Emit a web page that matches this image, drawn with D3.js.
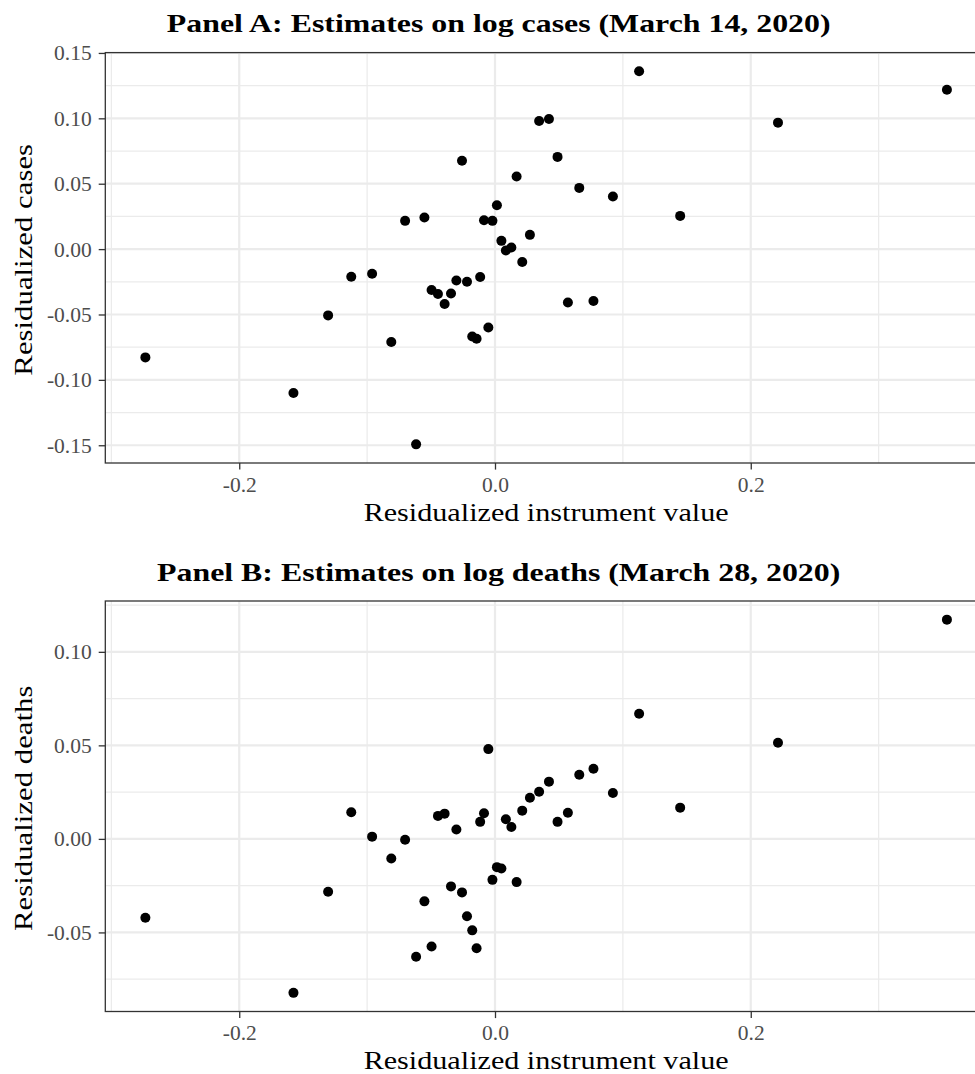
<!DOCTYPE html>
<html><head><meta charset="utf-8">
<script src="https://cdn.jsdelivr.net/npm/d3@7"></script>
<style>body{margin:0;background:#fff} svg{display:block}</style>
</head><body>
<script>
// Residualized instrument value (shared x for both panels)
const instrument = [-0.2734,-0.1576,-0.1305,-0.1124,-0.0961,-0.0811,-0.0703,-0.0617,-0.0552,-0.0496,
  -0.0446,-0.0394,-0.0344,-0.0302,-0.0258,-0.0219,-0.0178,-0.0144,-0.0116,-0.0086,
  -0.0052,-0.0020,0.0015,0.0050,0.0085,0.0128,0.0169,0.0213,0.0273,0.0345,
  0.0422,0.0489,0.0570,0.0659,0.0770,0.0922,0.1127,0.1448,0.2213,0.3534];
// Panel A: residualized log cases
const cases = [-0.0828,-0.1100,-0.0507,-0.0212,-0.0189,-0.0710,0.0216,-0.1493,0.0241,-0.0313,
  -0.0344,-0.0420,-0.0339,-0.0240,0.0675,-0.0250,-0.0668,-0.0685,-0.0214,0.0221,
  -0.0599,0.0216,0.0336,0.0063,-0.0011,0.0012,0.0555,-0.0099,0.0109,0.0980,
  0.0995,0.0705,-0.0408,0.0468,-0.0397,0.0402,0.1360,0.0254,0.0967,0.1219];
// Panel B: residualized log deaths
const deaths = [-0.0422,-0.0823,-0.0283,0.0142,0.0012,-0.0105,-0.0005,-0.0630,-0.0334,-0.0575,
  0.0123,0.0135,-0.0254,0.0050,-0.0286,-0.0414,-0.0489,-0.0585,0.0091,0.0137,
  0.0480,-0.0219,-0.0151,-0.0158,0.0105,0.0064,-0.0231,0.0151,0.0220,0.0252,
  0.0306,0.0091,0.0140,0.0343,0.0375,0.0245,0.0669,0.0167,0.0514,0.1172];

const xTicks = [-0.2, 0.0, 0.2];
const xTickLabels = ["-0.2", "0.0", "0.2"];
const xMinor = [-0.3, -0.1, 0.1, 0.3];
const casesTicks = [-0.15, -0.10, -0.05, 0.00, 0.05, 0.10, 0.15];
const casesTickLabels = ["-0.15", "-0.10", "-0.05", "0.00", "0.05", "0.10", "0.15"];
const casesMinor = [-0.125, -0.075, -0.025, 0.025, 0.075, 0.125];
const deathsTicks = [-0.05, 0.00, 0.05, 0.10];
const deathsTickLabels = ["-0.05", "0.00", "0.05", "0.10"];
const deathsMinor = [-0.075, -0.025, 0.025, 0.075, 0.125];

const titles = ["Panel A: Estimates on log cases (March 14, 2020)", "Panel B: Estimates on log deaths (March 28, 2020)"];
const yTitles = ["Residualized cases", "Residualized deaths"];
const xTitle = "Residualized instrument value";

const W = 975, H = 1074;
const FONT = "'Liberation Serif', 'Times New Roman', serif";
const svg = d3.select("body").append("svg").attr("width", W).attr("height", H)
  .attr("viewBox", `0 0 ${W} ${H}`).style("font-family", FONT);

function natWidth(text, weight, size) {
  const t = svg.append("text").attr("font-size", size).attr("font-weight", weight).text(text);
  const w = t.node().getComputedTextLength();
  t.remove();
  return w;
}
const titleSize = 26, axisTitleSize = 25.5, tickSize = 21.5;
// widths as measured on the reference (Computer Modern is wider than Liberation Serif)
const titleLens = [663.7, 663.7 * natWidth(titles[1], "bold", 100) / natWidth(titles[0], "bold", 100)];
const yTitleLens = [231.7, 231.7 * natWidth(yTitles[1], "normal", 100) / natWidth(yTitles[0], "normal", 100)];
const xTitleLen = 365;

function expand(ext) { const r = ext[1] - ext[0]; return [ext[0] - 0.05 * r, ext[1] + 0.05 * r]; }

const left = 105.3, right = 987;
const x = d3.scaleLinear().domain(expand(d3.extent(instrument))).range([left, right]);

const panels = [
  { title: titles[0], titleLen: titleLens[0], titleY: 31.7, yTitle: yTitles[0], yTitleLen: yTitleLens[0], vals: cases, ticks: casesTicks, tickLabels: casesTickLabels, minor: casesMinor, top: 52.6, bottom: 463, xTitleY: 521 },
  { title: titles[1], titleLen: titleLens[1], titleY: 580.7, yTitle: yTitles[1], yTitleLen: yTitleLens[1], vals: deaths, ticks: deathsTicks, tickLabels: deathsTickLabels, minor: deathsMinor, top: 601, bottom: 1011.5, xTitleY: 1068.5 }
];

const clip = svg.append("defs");
panels.forEach((p, i) => {
  const y = d3.scaleLinear().domain(expand(d3.extent(p.vals))).range([p.bottom, p.top]);
  const g = svg.append("g");
  clip.append("clipPath").attr("id", "clip" + i).append("rect")
    .attr("x", left).attr("y", p.top).attr("width", right - left).attr("height", p.bottom - p.top);
  const pg = g.append("g").attr("clip-path", `url(#clip${i})`);
  pg.append("rect").attr("x", left).attr("y", p.top).attr("width", right - left).attr("height", p.bottom - p.top).attr("fill", "#fff");
  // minor gridlines
  pg.selectAll(".ymin").data(p.minor).join("line")
    .attr("x1", left).attr("x2", right).attr("y1", d => y(d)).attr("y2", d => y(d))
    .attr("stroke", "#EBEBEB").attr("stroke-width", 1.2);
  pg.selectAll(".xmin").data(xMinor).join("line")
    .attr("y1", p.top).attr("y2", p.bottom).attr("x1", d => x(d)).attr("x2", d => x(d))
    .attr("stroke", "#EBEBEB").attr("stroke-width", 1.2);
  // major gridlines
  pg.selectAll(".ymaj").data(p.ticks).join("line")
    .attr("x1", left).attr("x2", right).attr("y1", d => y(d)).attr("y2", d => y(d))
    .attr("stroke", "#EBEBEB").attr("stroke-width", 2.2);
  pg.selectAll(".xmaj").data(xTicks).join("line")
    .attr("y1", p.top).attr("y2", p.bottom).attr("x1", d => x(d)).attr("x2", d => x(d))
    .attr("stroke", "#EBEBEB").attr("stroke-width", 2.2);
  // points
  pg.selectAll("circle").data(instrument.map((v, k) => [v, p.vals[k]])).join("circle")
    .attr("cx", d => x(d[0])).attr("cy", d => y(d[1])).attr("r", 5).attr("fill", "#000");
  // panel border
  g.append("rect").attr("x", left).attr("y", p.top).attr("width", right - left).attr("height", p.bottom - p.top)
    .attr("fill", "none").attr("stroke", "#333333").attr("stroke-width", 1.3);

  // y axis
  const ya = g.append("g").attr("transform", `translate(${left},0)`)
    .call(d3.axisLeft(y).tickValues(p.ticks).tickFormat((d, k) => p.tickLabels[k]).tickSize(6.6).tickPadding(7));
  ya.select(".domain").remove();
  ya.selectAll(".tick line").attr("stroke", "#333333").attr("stroke-width", 1.3);
  ya.selectAll(".tick text").attr("fill", "#4D4D4D").attr("font-size", tickSize)
    .attr("font-family", FONT).attr("dy", null).attr("dominant-baseline", "central");

  // x axis
  const xa = g.append("g").attr("transform", `translate(0,${p.bottom})`)
    .call(d3.axisBottom(x).tickValues(xTicks).tickFormat((d, k) => xTickLabels[k]).tickSize(6.6).tickPadding(7));
  xa.select(".domain").remove();
  xa.selectAll(".tick line").attr("stroke", "#333333").attr("stroke-width", 1.3);
  xa.selectAll(".tick text").attr("fill", "#4D4D4D").attr("font-size", tickSize)
    .attr("font-family", FONT).attr("y", 28.7).attr("dy", null);

  // titles
  svg.append("text").attr("x", 498.7).attr("y", p.titleY).attr("text-anchor", "middle")
    .attr("font-weight", "bold").attr("font-size", titleSize).attr("fill", "#000")
    .attr("textLength", p.titleLen).attr("lengthAdjust", "spacingAndGlyphs").text(p.title);
  svg.append("text").attr("x", (left + right) / 2).attr("y", p.xTitleY)
    .attr("text-anchor", "middle").attr("font-size", axisTitleSize).attr("fill", "#000")
    .attr("textLength", xTitleLen).attr("lengthAdjust", "spacingAndGlyphs").text(xTitle);
  svg.append("text").attr("transform", `translate(32.3,${(p.top + p.bottom) / 2 + 2}) rotate(-90)`)
    .attr("text-anchor", "middle").attr("font-size", axisTitleSize).attr("fill", "#000")
    .attr("textLength", p.yTitleLen).attr("lengthAdjust", "spacingAndGlyphs").text(p.yTitle);
});
</script>
</body></html>
